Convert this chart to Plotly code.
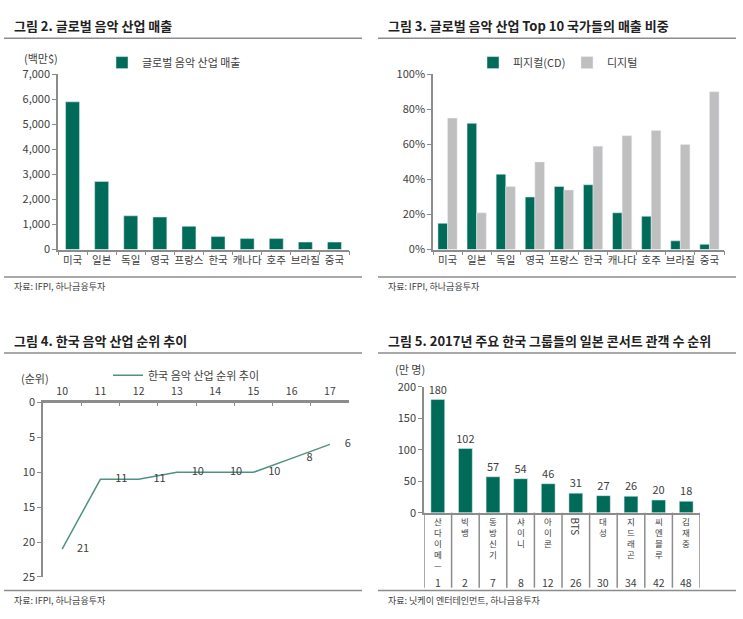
import plotly.graph_objects as go

# ---------------- data ----------------
countries = ["미국", "일본", "독일", "영국", "프랑스", "한국", "캐나다", "호주", "브라질", "중국"]
revenue = [5900, 2720, 1350, 1300, 930, 520, 440, 440, 300, 300]

physical_pct = [15, 72, 43, 30, 36, 37, 21, 19, 5, 3]
digital_pct = [75, 21, 36, 50, 34, 59, 65, 68, 60, 90]
pct_ticks = [0, 20, 40, 60, 80, 100]
pct_labels = ["0%", "20%", "40%", "60%", "80%", "100%"]

years = ["10", "11", "12", "13", "14", "15", "16", "17"]
korea_rank = [21, 11, 11, 10, 10, 10, 8, 6]

groups = ["산다이메—", "빅뱅", "동방신기", "샤이니", "아이콘", "BTS", "대성", "지드래곤", "씨엔블루", "김재중"]
audience = [180, 102, 57, 54, 46, 31, 27, 26, 20, 18]
group_rank = [1, 2, 7, 8, 12, 26, 30, 34, 42, 48]

titles = ["그림 2. 글로벌 음악 산업 매출",
          "그림 3. 글로벌 음악 산업 Top 10 국가들의 매출 비중",
          "그림 4. 한국 음악 산업 순위 추이",
          "그림 5. 2017년 주요 한국 그룹들의 일본 콘서트 관객 수 순위"]
sources = ["자료: IFPI, 하나금융투자", "자료: IFPI, 하나금융투자",
           "자료: IFPI, 하나금융투자", "자료: 닛케이 엔터테인먼트, 하나금융투자"]

# ---------------- style ----------------
W, H = 743, 619
FONT = "Noto Sans CJK KR"
GREEN = "#006b58"
GRAY_BAR = "#bfbfbf"
LINE_C = "#4d9383"
AXIS_C = "#8c8c8c"
TXT = "#404040"


def px(x):
    return x / W


def py(y):
    return 1 - y / H


fig = go.Figure()

# Panel 1
fig.add_trace(go.Bar(x=countries, y=revenue, name="글로벌 음악 산업 매출",
                     marker_color=GREEN, width=0.48, xaxis="x", yaxis="y",
                     legend="legend"))
# Panel 2
fig.add_trace(go.Bar(x=countries, y=physical_pct, name="피지컬(CD)",
                     marker_color=GREEN, width=0.33, offset=-0.33,
                     xaxis="x2", yaxis="y2", legend="legend2"))
fig.add_trace(go.Bar(x=countries, y=digital_pct, name="디지털",
                     marker_color=GRAY_BAR, width=0.33, offset=0.0,
                     xaxis="x2", yaxis="y2", legend="legend2"))
# Panel 3
fig.add_trace(go.Scatter(x=years, y=korea_rank, name="한국 음악 산업 순위 추이",
                         mode="lines+markers+text",
                         text=[str(v) for v in korea_rank],
                         textposition="middle right",
                         textfont=dict(size=11, color=TXT, family=FONT),
                         marker=dict(size=22, color="rgba(0,0,0,0)"),
                         line=dict(color=LINE_C, width=1.5),
                         xaxis="x3", yaxis="y3", legend="legend3",
                         cliponaxis=False))
# Panel 4
fig.add_trace(go.Bar(x=groups, y=audience, text=[str(v) for v in audience],
                     textposition="outside", cliponaxis=False,
                     constraintext="none",
                     textfont=dict(size=11, color=TXT, family=FONT),
                     marker_color=GREEN, width=0.5, showlegend=False,
                     xaxis="x4", yaxis="y4"))

tickfont = dict(size=11, color=TXT, family=FONT)
catfont = dict(size=10.5, color=TXT, family=FONT)
common_axis = dict(showgrid=False, zeroline=False, showline=True,
                   linecolor=AXIS_C, linewidth=1.5, tickcolor=AXIS_C,
                   fixedrange=True)

fig.update_layout(
    width=W, height=H,
    margin=dict(l=0, r=0, t=0, b=0),
    paper_bgcolor="white", plot_bgcolor="white",
    font=dict(family=FONT, color=TXT, size=11),
    barmode="group",
    xaxis=dict(domain=[px(58), px(349)], anchor="y", type="category",
               range=[-0.5, 9.5], ticks="outside", ticklen=4,
               tickson="boundaries", tickangle=0, tickfont=catfont,
               **common_axis),
    yaxis=dict(domain=[py(247), py(67)], anchor="x", range=[0, 7000],
               tickvals=list(range(0, 7001, 1000)), tickformat=",d",
               ticks="outside", ticklen=4, tickfont=tickfont, **common_axis),
    xaxis2=dict(domain=[px(433), px(724)], anchor="y2", type="category",
                range=[-0.5, 9.5], ticks="outside", ticklen=4,
                tickson="boundaries", tickangle=0, tickfont=catfont,
                **common_axis),
    yaxis2=dict(domain=[py(247), py(67)], anchor="x2", range=[0, 100],
                tickvals=pct_ticks, ticktext=pct_labels,
                ticks="outside", ticklen=4, tickfont=tickfont, **common_axis),
    xaxis3=dict(domain=[px(43), px(349)], anchor="y3", type="category",
                range=[-0.5, 7.5], side="top", ticks="inside", ticklen=3,
                tickson="boundaries", showgrid=False, zeroline=False,
                showline=True, linecolor=AXIS_C, linewidth=3,
                tickcolor=AXIS_C, tickfont=catfont, fixedrange=True),
    yaxis3=dict(domain=[py(583), py(404)], anchor="x3", range=[25, 0],
                tickvals=list(range(0, 26, 5)), ticks="outside", ticklen=4,
                tickfont=tickfont, **common_axis),
    xaxis4=dict(domain=[px(424), px(700)], anchor="y4", type="category",
                range=[-0.5, 9.5], ticks="", showticklabels=False,
                **common_axis),
    yaxis4=dict(domain=[py(517), py(388)], anchor="x4", range=[0, 200],
                tickvals=list(range(0, 201, 50)), ticks="outside", ticklen=4,
                tickfont=tickfont, **common_axis),
    legend=dict(x=px(102), y=py(55), xanchor="left", yanchor="middle",
                orientation="h", font=dict(size=11, color=TXT, family=FONT),
                bgcolor="rgba(0,0,0,0)", itemwidth=30),
    legend2=dict(x=px(473), y=py(55), xanchor="left", yanchor="middle",
                 orientation="h", font=dict(size=11, color=TXT, family=FONT),
                 bgcolor="rgba(0,0,0,0)", itemwidth=30, entrywidth=49),
    legend3=dict(x=px(108), y=py(376), xanchor="left", yanchor="middle",
                 orientation="h", font=dict(size=11, color=TXT, family=FONT),
                 bgcolor="rgba(0,0,0,0)", itemwidth=30),
)

annotations = []
shapes = []

# titles, rules, sources
panels = [(12, 4, 362, 17, 30, 275, 285),
          (386, 378, 736, 17, 30, 275, 285),
          (12, 4, 362, 340, 353, 597, 607),
          (386, 378, 736, 340, 353, 597, 607)]
for (tx, rx0, rx1, ty, r1, r2, sy), title, src in zip(panels, titles, sources):
    annotations.append(dict(text="<b>" + title + "</b>", x=px(tx), y=py(ty),
                            xref="paper", yref="paper", xanchor="left",
                            yanchor="middle", showarrow=False,
                            font=dict(size=13, color="#222222", family=FONT)))
    annotations.append(dict(text=src, x=px(tx), y=py(sy), xref="paper",
                            yref="paper", xanchor="left", yanchor="middle",
                            showarrow=False,
                            font=dict(size=9, color=TXT, family=FONT)))
    for ry in (r1, r2):
        shapes.append(dict(type="line", xref="paper", yref="paper",
                           x0=px(rx0), x1=px(rx1), y0=py(ry), y1=py(ry),
                           line=dict(color="#8c8c8c", width=1.5)))

# unit labels
for text, x, y in [("(백만$)", 41, 50), ("(순위)", 35, 379), ("(만 명)", 410, 370)]:
    annotations.append(dict(text=text, x=px(x), y=py(y), xref="paper",
                            yref="paper", xanchor="center", yanchor="middle",
                            showarrow=False,
                            font=dict(size=11, color=TXT, family=FONT)))

# panel 4 category labels (stacked characters) and rank row
for i, (name, rank) in enumerate(zip(groups, group_rank)):
    if name.isascii():
        annotations.append(dict(text=name, x=i, y=py(531), xref="x4",
                                yref="paper", xanchor="center",
                                yanchor="middle", textangle=90,
                                showarrow=False,
                                font=dict(size=10, color=TXT, family=FONT)))
    else:
        annotations.append(dict(text="<br>".join(name), x=i, y=py(517),
                                xref="x4", yref="paper", xanchor="center",
                                yanchor="top", showarrow=False,
                                font=dict(size=8.5, color=TXT, family=FONT)))
    annotations.append(dict(text=str(rank), x=i, y=py(589), xref="x4",
                            yref="paper", xanchor="center", yanchor="middle",
                            showarrow=False,
                            font=dict(size=10.5, color=TXT, family=FONT)))

for i in range(len(groups) + 1):
    shapes.append(dict(type="line", xref="x4", yref="paper",
                       x0=i - 0.5, x1=i - 0.5, y0=py(517), y1=py(594),
                       line=dict(color=AXIS_C, width=1.5)))

fig.update_layout(annotations=annotations, shapes=shapes)

fig.write_html("out.html")
